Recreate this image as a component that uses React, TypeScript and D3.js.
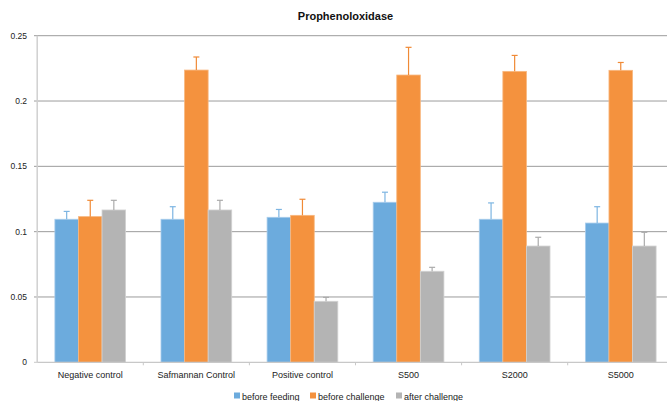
import React from "react";
import * as d3 from "d3";

const categories = ["Negative control", "Safmannan Control", "Positive control", "S500", "S2000", "S5000"];
const seriesNames = ["before feeding", "before challenge", "after challenge"];
const beforeFeeding = [0.1095, 0.1095, 0.111, 0.1225, 0.1095, 0.1066];
const beforeChallenge = [0.1115, 0.2237, 0.1125, 0.2199, 0.2227, 0.2235];
const afterChallenge = [0.1166, 0.1166, 0.0467, 0.0697, 0.089, 0.089];
const errFeeding = [0.006, 0.0096, 0.006, 0.0077, 0.0125, 0.0125];
const errBeforeChallenge = [0.0125, 0.01, 0.0123, 0.0212, 0.0122, 0.006];
const errAfterChallenge = [0.0074, 0.0074, 0.003, 0.003, 0.0067, 0.0105];
const yTicks = [0, 0.05, 0.1, 0.15, 0.2, 0.25];
const yTickLabels = ["0", "0.05", "0.1", "0.15", "0.2", "0.25"];
const title = "Prophenoloxidase";

const colors = ["#6cabdd", "#f4923e", "#b4b4b4"];
const strokeColors = ["#a9cdec", "#f8b77f", "#d2d2d2"];
const errColors = ["#7db5e2", "#f08a36", "#ababab"];

const W = 667;
const H = 401;
const FONT = "'Liberation Sans', Arial, sans-serif";

export default function App() {
  const values = [beforeFeeding, beforeChallenge, afterChallenge];
  const errors = [errFeeding, errBeforeChallenge, errAfterChallenge];

  const x0 = d3.scaleBand<string>().domain(categories).range([37.2, 673.8]).paddingInner(0).paddingOuter(0);
  const groupW = x0.bandwidth() / 4.5 * 3;
  const x1 = d3
    .scaleBand<string>()
    .domain(seriesNames)
    .range([0, groupW])
    .padding(0);
  const y = d3.scaleLinear().domain([0, 0.25]).range([362.3, 35.7]);

  const gridX1 = 34;
  const gridX2 = 673.8;
  const bottom = y(0);

  return (
    <svg
      width={W}
      height={H}
      style={{ position: "absolute", left: 0, top: 0, background: "#fff" }}
      fontFamily={FONT}
    >
      <rect x={0} y={0} width={W} height={H} fill="#fff" />
      <text x={345.5} y={20} textAnchor="middle" fontSize={11} fontWeight="bold" fill="#111">
        {title}
      </text>
      {yTicks.map((t, i) =>
        t === 0 ? null : (
          <line key={"g" + i} x1={gridX1} x2={gridX2} y1={y(t)} y2={y(t)} stroke="#9c9c9c" strokeWidth={1} />
        )
      )}
      {yTicks.map((t, i) => (
        <text key={"yl" + i} x={27} y={y(t) + 3} textAnchor="end" fontSize={8.5} fill="#222">
          {yTickLabels[i]}
        </text>
      ))}
      <line x1={gridX1} x2={37.2} y1={bottom} y2={bottom} stroke="#c8c8c8" strokeWidth={1} />
      {categories.map((c, ci) => {
        const gx = (x0(c) as number) + (x0.bandwidth() - groupW) / 2;
        return (
          <g key={c}>
            {seriesNames.map((s, si) => {
              const v = values[si][ci];
              const e = errors[si][ci];
              const bx = gx + (x1(s) as number);
              const bw = x1.bandwidth();
              const cx = bx + bw / 2;
              return (
                <g key={s}>
                  <rect
                    x={bx}
                    y={y(v)}
                    width={bw}
                    height={bottom - y(v)}
                    fill={colors[si]}
                    stroke={strokeColors[si]}
                    strokeWidth={0.8}
                  />
                  <line x1={cx} x2={cx} y1={y(v)} y2={y(v + e)} stroke={errColors[si]} strokeWidth={1.2} />
                  <line x1={cx - 3} x2={cx + 3} y1={y(v + e)} y2={y(v + e)} stroke={errColors[si]} strokeWidth={1.2} />
                </g>
              );
            })}
            <text x={(x0(c) as number) + x0.bandwidth() / 2} y={378} textAnchor="middle" fontSize={9} fill="#222">
              {c}
            </text>
          </g>
        );
      })}
      <line x1={37.2} x2={37.2} y1={y(0.25)} y2={bottom} stroke="#d0d0d0" strokeWidth={1.5} />
      <line x1={37.2} x2={gridX2} y1={bottom} y2={bottom} stroke="#c8c8c8" strokeWidth={1.2} />
      {categories.map((c, ci) => (
        <line
          key={"xt" + ci}
          x1={(x0(c) as number) + x0.bandwidth()}
          x2={(x0(c) as number) + x0.bandwidth()}
          y1={bottom}
          y2={bottom + 3}
          stroke="#c8c8c8"
          strokeWidth={1}
        />
      ))}
      {seriesNames.map((s, si) => {
        const lx = [234, 310, 396][si];
        return (
          <g key={"lg" + si}>
            <rect x={lx} y={392.5} width={6} height={6} fill={colors[si]} />
            <text x={lx + 8} y={399.5} fontSize={9} fill="#222">
              {s}
            </text>
          </g>
        );
      })}
    </svg>
  );
}
